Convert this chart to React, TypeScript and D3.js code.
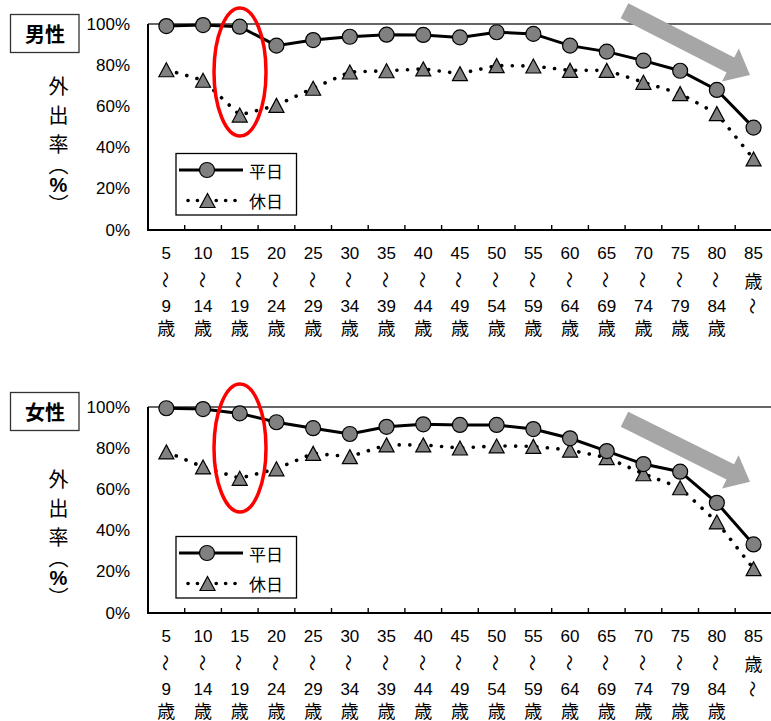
import React from "react";
import * as d3 from "d3";

// Age groups (start age of each 5-year band; the last one is open-ended)
const ageStarts = [5, 10, 15, 20, 25, 30, 35, 40, 45, 50, 55, 60, 65, 70, 75, 80, 85];
const yTicks = [0, 20, 40, 60, 80, 100];

// Outing rate (%) by age group
const maleWeekday = [99.0, 99.5, 98.7, 89.5, 92.2, 93.8, 94.8, 94.7, 93.5, 96.0, 95.2, 89.5, 86.6, 82.2, 77.3, 68.0, 49.7];
const maleHoliday = [77.8, 72.7, 55.8, 60.5, 68.8, 76.7, 77.3, 78.2, 75.9, 79.8, 79.6, 77.5, 77.5, 71.7, 66.2, 56.5, 34.5];
const femaleWeekday = [99.4, 99.0, 96.9, 92.6, 89.7, 86.9, 90.4, 91.6, 91.3, 91.3, 89.3, 84.8, 78.6, 72.3, 68.6, 53.5, 33.3];
const femaleHoliday = [78.2, 70.9, 65.4, 70.0, 77.5, 75.9, 81.6, 81.6, 80.1, 81.1, 80.9, 79.1, 75.4, 67.6, 60.8, 44.2, 21.5];

const seriesNames = ["平日", "休日"];

const W = 771;
const H = 721;
const PLOT_LEFT = 148;
const BAND = 36.7;
const PLOT_RIGHT = PLOT_LEFT + BAND * ageStarts.length;

const CJK = "'Noto Sans CJK JP', sans-serif";
const LATIN = "'Liberation Sans', Arial, sans-serif";
const MARKER_FILL = "#808080";

type Panel = {
  title: string;
  weekday: number[];
  holiday: number[];
  top: number; // y of 100%
  bottom: number; // y of 0%
  ylabelTop: number;
  ellipse: { cx: number; cy: number; rx: number; ry: number };
  arrow: { sx: number; sy: number; tx: number; ty: number };
  titleY: number;
};

const panels: Panel[] = [
  {
    title: "男性",
    weekday: maleWeekday,
    holiday: maleHoliday,
    top: 24,
    bottom: 230,
    ylabelTop: 85,
    ellipse: { cx: 240, cy: 72, rx: 26, ry: 64 },
    arrow: { sx: 624.5, sy: 10.8, tx: 750, ty: 75 },
    titleY: 33.5,
  },
  {
    title: "女性",
    weekday: femaleWeekday,
    holiday: femaleHoliday,
    top: 407,
    bottom: 613,
    ylabelTop: 478,
    ellipse: { cx: 240, cy: 448, rx: 26, ry: 64 },
    arrow: { sx: 624.5, sy: 419.2, tx: 750, ty: 481.7 },
    titleY: 411.5,
  },
];

function arrowPoints(sx: number, sy: number, tx: number, ty: number) {
  const shaftW = 16.8;
  const headW = 37;
  const headL = 22;
  const dx = tx - sx;
  const dy = ty - sy;
  const len = Math.hypot(dx, dy);
  const ux = dx / len;
  const uy = dy / len;
  const nx = -uy;
  const ny = ux;
  const bx = tx - ux * headL;
  const by = ty - uy * headL;
  const pts: [number, number][] = [
    [sx + (nx * shaftW) / 2, sy + (ny * shaftW) / 2],
    [bx + (nx * shaftW) / 2, by + (ny * shaftW) / 2],
    [bx + (nx * headW) / 2, by + (ny * headW) / 2],
    [tx, ty],
    [bx - (nx * headW) / 2, by - (ny * headW) / 2],
    [bx - (nx * shaftW) / 2, by - (ny * shaftW) / 2],
    [sx - (nx * shaftW) / 2, sy - (ny * shaftW) / 2],
  ];
  return pts.map((p) => p.join(",")).join(" ");
}

function triPath(cx: number, cy: number) {
  const w = 15;
  const h = 14;
  return `M${cx},${cy - h / 2}L${cx + w / 2},${cy + h / 2}L${cx - w / 2},${cy + h / 2}Z`;
}

// Vertical "〜" used as the range mark between ages
function Wave({ x, y }: { x: number; y: number }) {
  return (
    <text
      x={0}
      y={0}
      transform={`translate(${x},${y}) rotate(90)`}
      textAnchor="middle"
      dominantBaseline="central"
      fontFamily={CJK}
      fontSize={17}
    >
      〜
    </text>
  );
}

function ChartPanel({ p }: { p: Panel }) {
  const x = d3
    .scaleBand<string>()
    .domain(ageStarts.map(String))
    .range([PLOT_LEFT, PLOT_RIGHT]);
  const y = d3.scaleLinear().domain([0, 100]).range([p.bottom, p.top]);
  const cx = (i: number) => (x(String(ageStarts[i])) as number) + x.bandwidth() / 2;

  const line = d3
    .line<number>()
    .x((_, i) => cx(i))
    .y((v) => y(v));

  const lineStep = 26.3;
  const labelY0 = p.bottom + 23.5;

  const yl = ["外", "出", "率"];

  return (
    <g>
      {/* title box */}
      <rect x={10.5} y={p.titleY - 19} width={68.5} height={38} fill="#fff" stroke="#333" strokeWidth={1.3} />
      <text
        x={45}
        y={p.titleY}
        textAnchor="middle"
        dominantBaseline="central"
        fontFamily={CJK}
        fontWeight={700}
        fontSize={20}
      >
        {p.title}
      </text>

      {/* vertical axis title */}
      {yl.map((c, i) => (
        <text
          key={c}
          x={58.5}
          y={p.ylabelTop + i * 29}
          textAnchor="middle"
          dominantBaseline="central"
          fontFamily={CJK}
          fontSize={20}
        >
          {c}
        </text>
      ))}
      <text x={58.5} y={p.ylabelTop + 79} textAnchor="middle" dominantBaseline="central" fontFamily={CJK} fontSize={20}>
        ︵
      </text>
      <text
        x={58.5}
        y={p.ylabelTop + 100}
        textAnchor="middle"
        dominantBaseline="central"
        fontFamily={LATIN}
        fontWeight={700}
        fontSize={20}
      >
        %
      </text>
      <text x={58.5} y={p.ylabelTop + 118} textAnchor="middle" dominantBaseline="central" fontFamily={CJK} fontSize={20}>
        ︶
      </text>

      {/* y tick labels */}
      {yTicks.map((t) => (
        <text
          key={t}
          x={130}
          y={y(t)}
          textAnchor="end"
          dominantBaseline="central"
          fontFamily={LATIN}
          fontSize={17}
        >
          {t}%
        </text>
      ))}

      {/* plot frame */}
      <line x1={PLOT_LEFT} x2={W} y1={p.top} y2={p.top} stroke="#333" strokeWidth={1.4} />
      <line x1={PLOT_LEFT} x2={PLOT_LEFT} y1={p.top} y2={p.bottom} stroke="#000" strokeWidth={2} />
      <line x1={PLOT_LEFT - 1} x2={W} y1={p.bottom} y2={p.bottom} stroke="#000" strokeWidth={2} />
      {ageStarts.slice(1).map((a) => (
        <line
          key={a}
          x1={x(String(a))}
          x2={x(String(a))}
          y1={p.bottom}
          y2={p.bottom - 5}
          stroke="#000"
          strokeWidth={1.4}
        />
      ))}

      {/* x labels */}
      {ageStarts.map((a, i) => {
        const xc = cx(i);
        const last = i === ageStarts.length - 1;
        return (
          <g key={a}>
            <text x={xc} y={labelY0} textAnchor="middle" dominantBaseline="central" fontFamily={LATIN} fontSize={17}>
              {a}
            </text>
            {last ? (
              <>
                <text
                  x={xc}
                  y={labelY0 + lineStep}
                  textAnchor="middle"
                  dominantBaseline="central"
                  fontFamily={CJK}
                  fontSize={18}
                >
                  歳
                </text>
                <Wave x={xc} y={labelY0 + lineStep * 2} />
              </>
            ) : (
              <>
                <Wave x={xc} y={labelY0 + lineStep} />
                <text
                  x={xc}
                  y={labelY0 + lineStep * 2}
                  textAnchor="middle"
                  dominantBaseline="central"
                  fontFamily={LATIN}
                  fontSize={17}
                >
                  {a + 4}
                </text>
                <text
                  x={xc}
                  y={labelY0 + lineStep * 2.8}
                  textAnchor="middle"
                  dominantBaseline="central"
                  fontFamily={CJK}
                  fontSize={18}
                >
                  歳
                </text>
              </>
            )}
          </g>
        );
      })}

      {/* series lines */}
      <path
        d={line(p.holiday) || ""}
        fill="none"
        stroke="#000"
        strokeWidth={3.6}
        strokeLinecap="round"
        strokeDasharray="0.1 10.5"
      />
      <path d={line(p.weekday) || ""} fill="none" stroke="#000" strokeWidth={3} />

      {/* markers */}
      {p.holiday.map((v, i) => (
        <path key={`h${i}`} d={triPath(cx(i), y(v))} fill={MARKER_FILL} stroke="#000" strokeWidth={1.2} />
      ))}
      {p.weekday.map((v, i) => (
        <circle key={`w${i}`} cx={cx(i)} cy={y(v)} r={7.5} fill={MARKER_FILL} stroke="#000" strokeWidth={1.2} />
      ))}

      {/* legend */}
      <g transform={`translate(0,${p.top - 24})`}>
        <rect x={176} y={153.5} width={120.5} height={61.5} fill="#fff" stroke="#000" strokeWidth={1.3} />
        <line x1={179} x2={243} y1={170} y2={170} stroke="#000" strokeWidth={3} />
        <circle cx={207} cy={170} r={7.5} fill={MARKER_FILL} stroke="#000" strokeWidth={1.2} />
        <text x={249} y={170} dominantBaseline="central" fontFamily={CJK} fontSize={17}>
          {seriesNames[0]}
        </text>
        <line
          x1={188}
          x2={241}
          y1={200.5}
          y2={200.5}
          stroke="#000"
          strokeWidth={3.6}
          strokeLinecap="round"
          strokeDasharray="0.1 9.3"
        />
        <path d={triPath(207.5, 200.5)} fill={MARKER_FILL} stroke="#000" strokeWidth={1.2} />
        <text x={249} y={200.5} dominantBaseline="central" fontFamily={CJK} fontSize={17}>
          {seriesNames[1]}
        </text>
      </g>

      {/* highlight ellipse around the 15-19 group */}
      <ellipse
        cx={p.ellipse.cx}
        cy={p.ellipse.cy}
        rx={p.ellipse.rx}
        ry={p.ellipse.ry}
        fill="none"
        stroke="#ff0000"
        strokeWidth={3.5}
      />

      {/* declining-trend arrow */}
      <polygon points={arrowPoints(p.arrow.sx, p.arrow.sy, p.arrow.tx, p.arrow.ty)} fill="#a6a6a6" />
    </g>
  );
}

export default function App() {
  return (
    <svg
      width={W}
      height={H}
      viewBox={`0 0 ${W} ${H}`}
      style={{ position: "absolute", left: 0, top: 0, background: "#fff" }}
    >
      <rect width={W} height={H} fill="#fff" />
      {panels.map((p) => (
        <ChartPanel key={p.title} p={p} />
      ))}
    </svg>
  );
}
